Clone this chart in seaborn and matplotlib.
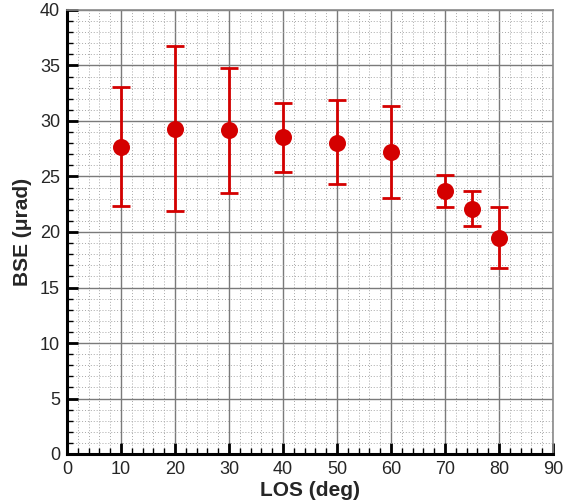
import matplotlib
matplotlib.use("Agg")
import matplotlib.pyplot as plt
from matplotlib.ticker import MultipleLocator
import seaborn as sns
import pandas as pd

# Boresight error versus line-of-sight angle
los_deg = [10, 20, 30, 40, 50, 60, 70, 75, 80]
bse_mean = [27.7, 29.3, 29.2, 28.55, 28.05, 27.2, 23.7, 22.1, 19.5]
bse_upper = [33.05, 36.8, 34.8, 31.6, 31.9, 31.35, 25.1, 23.7, 22.25]
bse_lower = [22.3, 21.9, 23.5, 25.4, 24.3, 23.1, 22.25, 20.5, 16.8]

df = pd.DataFrame({"los": los_deg, "bse": bse_mean,
                   "hi": bse_upper, "lo": bse_lower})

sns.set_style("white")
plt.rcParams["font.family"] = ["Liberation Sans", "DejaVu Sans"]

red = "#d40000"
fig = plt.figure(figsize=(5.74, 5.0), dpi=100)
ax = fig.add_axes([67 / 574, 1 - 454 / 500, (553 - 67) / 574, (454 - 10) / 500])

ax.errorbar(df["los"], df["bse"],
            yerr=[df["bse"] - df["lo"], df["hi"] - df["bse"]],
            fmt="none", ecolor=red, elinewidth=2.0, capsize=6.5, capthick=2.0,
            zorder=3)
sns.scatterplot(data=df, x="los", y="bse", ax=ax, color=red, s=150,
                edgecolor=red, linewidth=0, zorder=4, legend=False)

ax.set_xlim(0, 90)
ax.set_ylim(0, 40)
ax.xaxis.set_major_locator(MultipleLocator(10))
ax.xaxis.set_minor_locator(MultipleLocator(2))
ax.yaxis.set_major_locator(MultipleLocator(5))
ax.yaxis.set_minor_locator(MultipleLocator(1))

ax.grid(which="major", color="#7a7a7a", linewidth=1.0, linestyle="-")
ax.grid(which="minor", color="#a8a8a8", linewidth=0.7, linestyle=(0, (1, 2)))
ax.set_axisbelow(True)

ax.tick_params(which="major", direction="in", length=8, width=2,
               labelsize=13, color="black", pad=5,
               bottom=True, left=True, top=False, right=False)
ax.tick_params(which="minor", direction="in", length=4, width=1,
               color="black", bottom=True, left=True, top=False, right=False)

for side in ("left", "bottom"):
    ax.spines[side].set_linewidth(2.2)
    ax.spines[side].set_color("black")
for side in ("top", "right"):
    ax.spines[side].set_linewidth(1.2)
    ax.spines[side].set_color("#8a8a8a")

ax.set_xlabel("LOS (deg)", fontsize=15, fontweight="bold", labelpad=2)
ax.set_ylabel("BSE (\u03bcrad)", fontsize=15, fontweight="bold", labelpad=6)

fig.savefig("out.png", dpi=100)
